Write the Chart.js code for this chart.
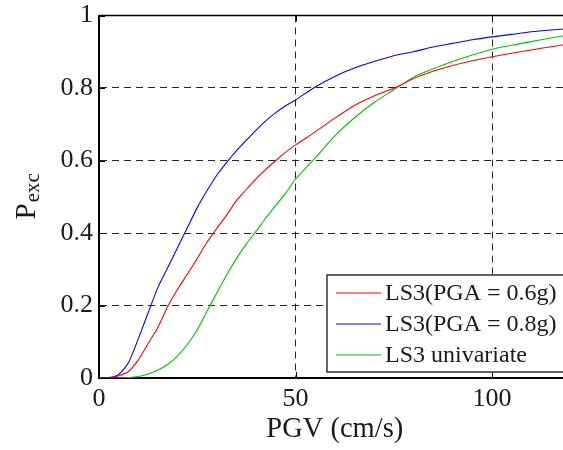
<!DOCTYPE html>
<html>
<head>
<meta charset="utf-8">
<script src="https://cdn.jsdelivr.net/npm/chart.js@4.4.1/dist/chart.umd.min.js"></script>
<style>
  html, body { margin: 0; padding: 0; background: #fff; overflow: hidden; }
  #wrap { width: 563px; height: 450px; overflow: hidden; }
</style>
</head>
<body>
<div id="wrap"><canvas id="fragility" width="580" height="450"></canvas></div>
<script>
"use strict";

// PGV grid (cm/s) shared by the three fragility curves
const pgv = [0, 2.5, 5, 7.5, 10, 12.5, 15, 17.5, 20, 22.5, 25, 27.5, 30, 32.5, 35, 37.5, 40, 42.5, 45, 47.5,
	50, 55, 60, 65, 70, 75, 80, 85, 90, 95, 100, 105, 110, 115, 120];

// Probability of exceedance, LS3 with PGA = 0.6g
const pexcPga06 = [0, 0, 0.006, 0.018, 0.05, 0.095, 0.14, 0.198, 0.245, 0.287, 0.33, 0.375, 0.413, 0.45, 0.49, 0.52, 0.55, 0.576, 0.6, 0.623,
	0.643, 0.679, 0.717, 0.752, 0.778, 0.799, 0.826, 0.846, 0.862, 0.875, 0.886, 0.896, 0.905, 0.914, 0.922];

// Probability of exceedance, LS3 with PGA = 0.8g
const pexcPga08 = [0, 0.001, 0.01, 0.042, 0.108, 0.18, 0.25, 0.305, 0.36, 0.415, 0.47, 0.517, 0.56, 0.595, 0.627, 0.656, 0.684, 0.71, 0.732, 0.751,
	0.767, 0.803, 0.832, 0.855, 0.873, 0.889, 0.9, 0.913, 0.923, 0.933, 0.941, 0.948, 0.955, 0.96, 0.964];

// Probability of exceedance, LS3 univariate (PGV only)
const pexcUnivariate = [0, 0, 0, 0.001, 0.004, 0.011, 0.022, 0.038, 0.061, 0.093, 0.133, 0.185, 0.235, 0.285, 0.33, 0.37, 0.405, 0.442, 0.476, 0.51,
	0.549, 0.607, 0.668, 0.718, 0.76, 0.795, 0.83, 0.853, 0.873, 0.891, 0.907, 0.918, 0.928, 0.938, 0.947];

const seriesLabels = ["LS3(PGA = 0.6g)", "LS3(PGA = 0.8g)", "LS3 univariate"];
const xTicks = [0, 50, 100];
const yTicks = [0, 0.2, 0.4, 0.6, 0.8, 1];

const serif = "'Liberation Serif', 'Times New Roman', serif";

function toPoints(values) {
	return values.map(function (v, i) {
		return { x: pgv[i], y: v };
	});
}

function lineSet(label, values, color) {
	return {
		label: label,
		data: toPoints(values),
		borderColor: color,
		backgroundColor: color,
		borderWidth: 1.1,
		pointRadius: 0,
		tension: 0.2,
		fill: false,
	};
}

// Axis box, inward tick marks, axis titles and the legend
const decorations = {
	id: "decorations",
	afterDatasetsDraw(chart) {
		const ctx = chart.ctx;
		const area = chart.chartArea;
		const xs = chart.scales.x;
		const ys = chart.scales.y;

		ctx.save();
		ctx.strokeStyle = "#000";

		// top border of the box
		ctx.lineWidth = 1.5;
		ctx.beginPath();
		ctx.moveTo(area.left, area.top);
		ctx.lineTo(area.right, area.top);
		ctx.stroke();

		// short ticks pointing into the plot
		ctx.lineWidth = 1;
		const len = 6;
		yTicks.forEach(function (v) {
			const y = Math.round(ys.getPixelForValue(v)) + 0.5;
			ctx.beginPath();
			ctx.moveTo(area.left, y);
			ctx.lineTo(area.left + len, y);
			ctx.moveTo(area.right, y);
			ctx.lineTo(area.right - len, y);
			ctx.stroke();
		});
		xTicks.forEach(function (v) {
			const x = Math.round(xs.getPixelForValue(v)) + 0.5;
			ctx.beginPath();
			ctx.moveTo(x, area.bottom);
			ctx.lineTo(x, area.bottom - len);
			ctx.moveTo(x, area.top);
			ctx.lineTo(x, area.top + len);
			ctx.stroke();
		});

		// x axis title
		ctx.fillStyle = "#1a1a1a";
		ctx.font = "28.5px " + serif;
		ctx.textAlign = "center";
		ctx.textBaseline = "alphabetic";
		ctx.fillText("PGV (cm/s)", (area.left + area.right) / 2, 437);

		// y axis title: P with subscript "exc", rotated
		ctx.save();
		ctx.translate(35, (area.top + area.bottom) / 2);
		ctx.rotate(-Math.PI / 2);
		ctx.textAlign = "left";
		ctx.font = "29px " + serif;
		const pWidth = ctx.measureText("P").width;
		ctx.font = "21px " + serif;
		const subWidth = ctx.measureText("exc").width;
		const start = -(pWidth + subWidth) / 2;
		ctx.font = "29px " + serif;
		ctx.fillText("P", start, 0);
		ctx.font = "21px " + serif;
		ctx.fillText("exc", start + pWidth + 1, 4);
		ctx.restore();

		// legend box in the lower right corner
		const box = { left: 327, top: 275, right: 600, bottom: 372 };
		ctx.fillStyle = "#fff";
		ctx.fillRect(box.left, box.top, box.right - box.left, box.bottom - box.top);
		ctx.strokeStyle = "#333";
		ctx.lineWidth = 1.5;
		ctx.strokeRect(box.left, box.top, box.right - box.left, box.bottom - box.top);

		ctx.font = "24px " + serif;
		ctx.textAlign = "left";
		ctx.textBaseline = "middle";
		chart.data.datasets.forEach(function (ds, i) {
			const y = 293 + i * 31;
			ctx.strokeStyle = ds.borderColor;
			ctx.lineWidth = 1.2;
			ctx.beginPath();
			ctx.moveTo(336, y);
			ctx.lineTo(381, y);
			ctx.stroke();
			ctx.fillStyle = "#1a1a1a";
			ctx.fillText(ds.label, 385, y + 1);
		});

		ctx.restore();
	},
};

new Chart(document.getElementById("fragility"), {
	type: "line",
	data: {
		datasets: [
			lineSet(seriesLabels[0], pexcPga06, "#ff0000"),
			lineSet(seriesLabels[1], pexcPga08, "#0000ff"),
			lineSet(seriesLabels[2], pexcUnivariate, "#00c400"),
		],
	},
	options: {
		responsive: false,
		animation: false,
		devicePixelRatio: 1,
		layout: {
			padding: { top: 15.5, right: 9.4, left: 0, bottom: 0 },
		},
		scales: {
			x: {
				type: "linear",
				min: 0,
				max: 120,
				afterBuildTicks: function (scale) {
					scale.ticks = xTicks.map(function (v) {
						return { value: v };
					});
				},
				afterFit: function (scale) {
					scale.height = 72;
					scale.paddingLeft = 0;
					scale.paddingRight = 0;
				},
				ticks: {
					color: "#1a1a1a",
					font: { family: serif, size: 26 },
					padding: 6,
					maxRotation: 0,
				},
				grid: {
					color: "rgba(0,0,0,0.85)",
					lineWidth: 1,
					drawTicks: false,
				},
				border: { display: true, color: "#000", width: 2, dash: [7, 5] },
			},
			y: {
				min: 0,
				max: 1,
				afterBuildTicks: function (scale) {
					scale.ticks = yTicks.map(function (v) {
						return { value: v };
					});
				},
				afterFit: function (scale) {
					scale.width = 99;
					scale.paddingTop = 0;
					scale.paddingBottom = 0;
				},
				ticks: {
					color: "#1a1a1a",
					font: { family: serif, size: 26 },
					padding: 6,
					callback: function (v) {
						return String(Math.round(v * 10) / 10);
					},
				},
				grid: {
					color: "rgba(0,0,0,0.85)",
					lineWidth: 1,
					drawTicks: false,
				},
				border: { display: true, color: "#000", width: 2, dash: [7, 5] },
			},
		},
		plugins: {
			legend: { display: false },
			tooltip: { enabled: false },
		},
	},
	plugins: [decorations],
});
</script>
</body>
</html>
